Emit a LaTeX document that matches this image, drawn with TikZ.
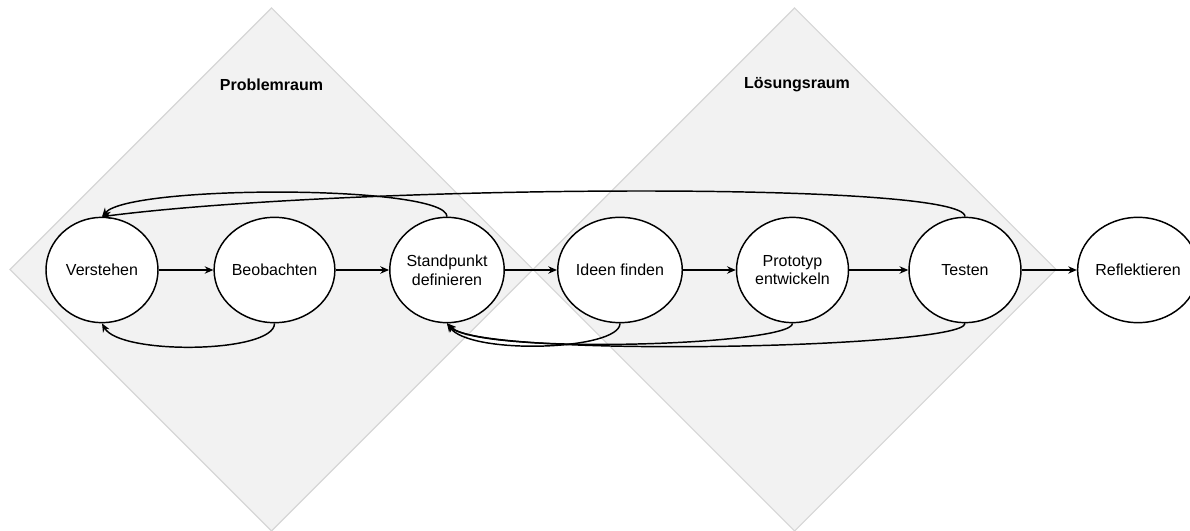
\documentclass[tikz,border=0pt]{standalone}
\usepackage{fontspec}
\setmainfont{Liberation Sans}
\usepackage{tikz}
\usetikzlibrary{arrows.meta,shapes.geometric}
\definecolor{raumgrau}{RGB}{242,242,242}
\definecolor{raumrand}{RGB}{214,214,214}

\begin{document}
\begin{tikzpicture}[x=0.75pt, y=-0.75pt, >={Stealth[length=6.5pt,width=5.5pt]}, line width=1.1pt,
    phase/.style={ellipse, draw, fill=white, minimum width=84pt, minimum height=79pt,
        inner sep=0pt, align=center, font=\fontsize{12}{14}\selectfont},
    raumtitel/.style={font=\bfseries\fontsize{12}{14}\selectfont}]
    \useasboundingbox (0,0) rectangle (1190,531);
    % rauten: problemraum links, loesungsraum rechts
    \filldraw[fill=raumgrau, draw=raumrand, line width=0.8pt] (271.5,8) -- (533,269.5) -- (271.5,531) -- (10,269.5) -- cycle;
    \filldraw[fill=raumgrau, draw=raumrand, line width=0.8pt] (794.5,8) -- (1056,269.5) -- (794.5,531) -- (533,269.5) -- cycle;
    \node[raumtitel] (prob) at (271.5,85) {Problemraum};
    \node[raumtitel] (loes) at (797,85) {Lösungsraum};
    % phasen
    \node[phase] (ve) at (102,270) {Verstehen};
    \node[phase] (bo) at (274.5,270) {Beobachten};
    \node[phase] (sp) at (447,270) {Standpunkt\\definieren};
    \node[phase] (id) at (620,270) {Ideen finden};
    \node[phase] (pr) at (792.5,270) {Prototyp\\entwickeln};
    \node[phase] (te) at (965,270) {Testen};
    \node[phase] (re) at (1138,270) {Reflektieren};
    % hauptfluss
    \draw[->] (ve) -- (bo);
    \draw[->] (bo) -- (sp);
    \draw[->] (sp) -- (id);
    \draw[->] (id) -- (pr);
    \draw[->] (pr) -- (te);
    \draw[->] (te) -- (re);
    % rueckspruenge oben
    \draw[->] (sp.north) .. controls +(0,-32) and +(28,-32) .. (ve.north);
    \draw[->] (te.north) .. controls +(0,-36) and +(250,-32) .. (ve.north);
    % rueckspruenge unten
    \draw[->] (bo.south) .. controls +(0,30) and +(18,32) .. (ve.south);
    \draw[->] (id.south) .. controls +(0,27) and +(23,32) .. (sp.south);
    \draw[->] (pr.south) .. controls +(0,22) and +(33,32) .. (sp.south);
    \draw[->] (te.south) .. controls +(0,25) and +(33,35) .. (sp.south);
\end{tikzpicture}
\end{document}
